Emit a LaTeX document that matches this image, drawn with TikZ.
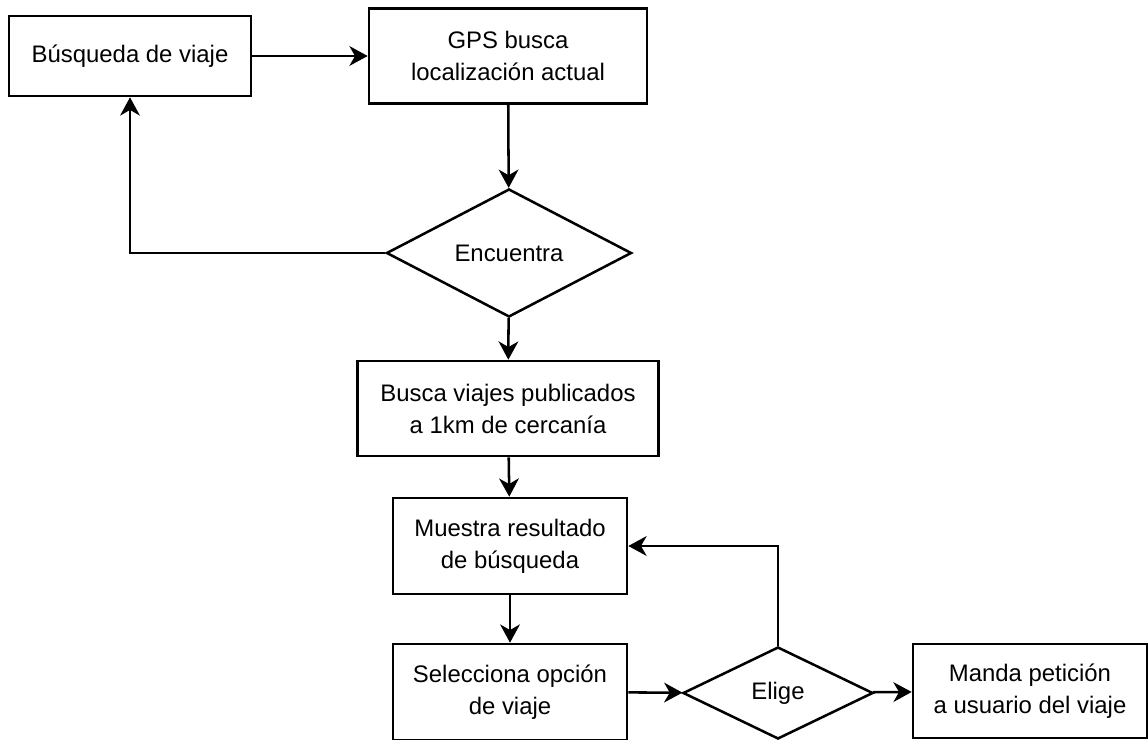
\documentclass[tikz,border=0pt]{standalone}
\usepackage{fontspec}
\setmainfont{Liberation Sans}
\usetikzlibrary{graphs}
\usetikzlibrary{shapes.geometric}
\usetikzlibrary{arrows.meta}
\tikzset{
  box/.style= {draw, rectangle, line width=1.8pt, align=center, minimum width=5.85cm, minimum height=2.4cm},
  cond/.style= {draw, diamond, line width=1.8pt, inner sep=0pt},
}

\begin{document}
\begin{tikzpicture}[x=0.025cm, y=-0.025cm, >={Stealth[length=13pt, width=14pt, inset=4pt]}, font=\fontsize{17}{22.8}\selectfont]
  \useasboundingbox (0,0) rectangle (1148,740);
  \node [box, minimum width=6.05cm, minimum height=2cm] (busq) at (130,56) {Búsqueda de viaje} ;
  \node [box, minimum width=6.95cm, minimum height=2.375cm] (gps) at (508,56) {GPS busca\\localización actual} ;
  \node [cond, minimum width=6.125cm, minimum height=3.2cm] (enc) at (509,253) {Encuentra} ;
  \node [box, minimum width=7.525cm, minimum height=2.375cm] (pub) at (508,408.5) {Busca viajes publicados\\a 1km de cercanía} ;
  \node [box] (res) at (510,546) {Muestra resultado\\de búsqueda} ;
  \node [box] (sel) at (510,692) {Selecciona opción\\de viaje} ;
  \node [cond, minimum width=4.75cm, minimum height=2.3cm] (eli) at (778,693) {Elige} ;
  \node [box, minimum height=2.35cm] (pet) at (1030,691) {Manda petición\\a usuario del viaje} ;

  \graph [edges={line width=1.8pt}] {
    (busq) -> (gps) -> (enc) -> (pub) -> (res) -> (sel) -> (eli) -> (pet) ;
  } ;
  \draw [->, line width=1.8pt] (enc.west) -| (busq.south) ;
  \draw [->, line width=1.8pt] (eli.north) |- (res.east) ;
\end{tikzpicture}
\end{document}
